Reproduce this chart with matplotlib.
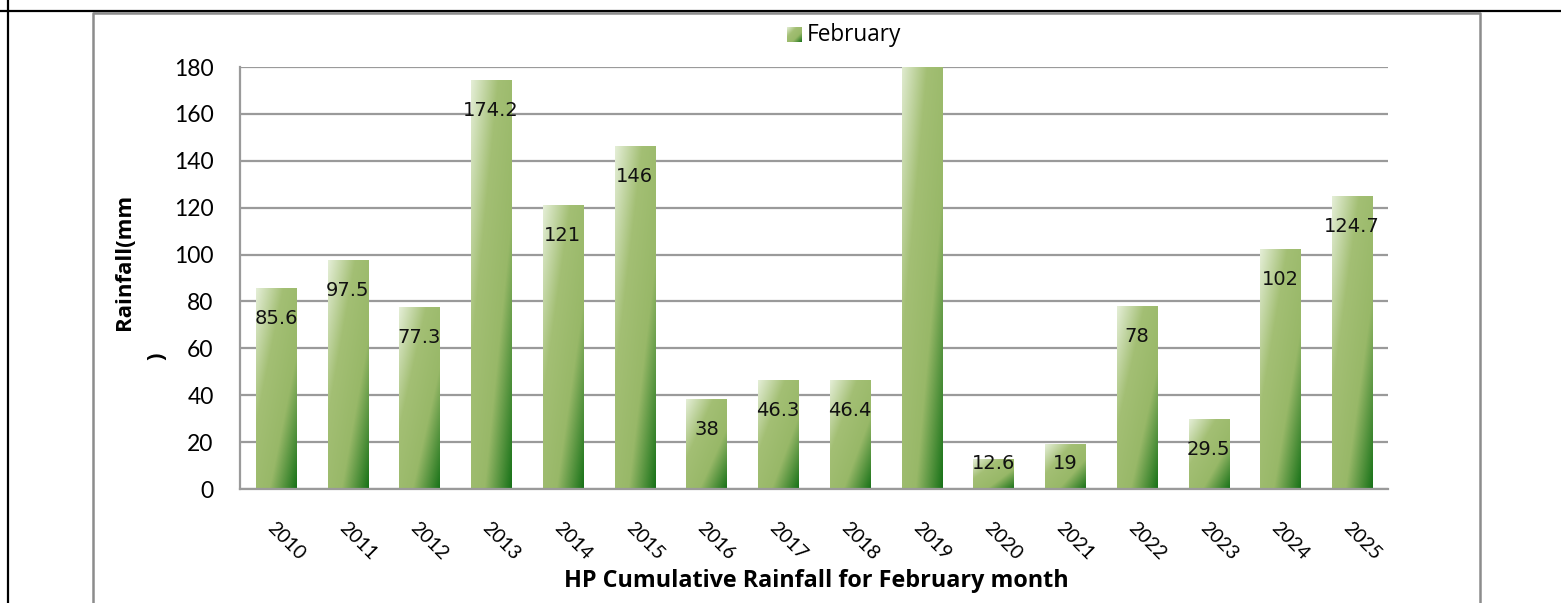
import numpy as np
import matplotlib
matplotlib.use("Agg")
import matplotlib.pyplot as plt
from matplotlib.colors import LinearSegmentedColormap
from matplotlib.lines import Line2D

# -----------------------------
# DATA
# -----------------------------
years = ["2010", "2011", "2012", "2013", "2014", "2015", "2016", "2017",
         "2018", "2019", "2020", "2021", "2022", "2023", "2024", "2025"]
rainfall = [85.6, 97.5, 77.3, 174.2, 121, 146, 38, 46.3,
            46.4, 190, 12.6, 19, 78, 29.5, 102, 124.7]   # 2019 runs off the top of the axis
labels = ["85.6", "97.5", "77.3", "174.2", "121", "146", "38", "46.3",
          "46.4", "", "12.6", "19", "78", "29.5", "102", "124.7"]
yticks = [0, 20, 40, 60, 80, 100, 120, 140, 160, 180]

# -----------------------------
# STYLE
# -----------------------------
W, H = 1561, 603
TICK_FONT = "Lato"
HEAD_FONT = "Open Sans"
grid_col = "#9a9a9a"
green = LinearSegmentedColormap.from_list(
    "grn", ["#e4eed6", "#a3bf74", "#98b868", "#187218"])

fig = plt.figure(figsize=(W / 100, H / 100), dpi=100)
ax = fig.add_axes([240 / W, 1 - 489 / H, (1388 - 240) / W, (489 - 67) / H])

x = np.arange(len(years))
bars = ax.bar(x, rainfall, width=0.56, color="none", edgecolor="none", zorder=2)

# diagonal gradient: light at top-left, dark at bottom-right
u = np.linspace(0, 1, 60)
v = np.linspace(0, 1, 200)
U, V = np.meshgrid(u, v)
grad = (U + (1 - V)) / 2
for b in bars:
    x0, w, h = b.get_x(), b.get_width(), b.get_height()
    ax.imshow(grad[::-1], extent=[x0, x0 + w, 0, h], aspect="auto",
              cmap=green, vmin=0, vmax=1, zorder=2, interpolation="bilinear")

# labels sit just inside the bar end, but never lower than near the base
ymax = 180
for xi, val, lab in zip(x, rainfall, labels):
    if lab and val <= ymax:
        ax.text(xi, max(val - 12.8, 10.7), lab, ha="center", va="center",
                fontsize=14, color="#111111", family="DejaVu Sans", zorder=3)

ax.set_xlim(-0.5, len(years) - 0.5)
ax.set_ylim(0, ymax)
ax.set_yticks(yticks)
ax.set_yticklabels([str(t) for t in yticks], family=TICK_FONT, fontsize=16.5)
ax.set_xticks(x)
ax.set_xticklabels(years, rotation=-45, ha="left", va="top",
                   rotation_mode="anchor", family=TICK_FONT, fontsize=14)
ax.tick_params(axis="both", length=0)
ax.tick_params(axis="y", pad=19)
ax.tick_params(axis="x", pad=22)

ax.yaxis.grid(True, color=grid_col, linewidth=1.6, zorder=0)
ax.set_axisbelow(True)
for side in ["top", "right"]:
    ax.spines[side].set_visible(False)
ax.spines["left"].set_color(grid_col)
ax.spines["bottom"].set_color(grid_col)
ax.spines["left"].set_linewidth(1.6)
ax.spines["bottom"].set_linewidth(1.6)

# axis titles
fig.text(816 / W, 1 - 581 / H, "HP Cumulative Rainfall for February month",
         family=HEAD_FONT, fontsize=16.8, fontweight="bold",
         ha="center", va="center")
fig.text(125 / W, 1 - 262 / H, "Rainfall(mm", family=HEAD_FONT, fontsize=16,
         fontweight="bold", rotation=90, ha="center", va="center")
fig.text(157 / W, 1 - 356 / H, ")", family=HEAD_FONT, fontsize=16,
         fontweight="bold", rotation=90, ha="center", va="center")

# legend (gradient square + text)
lax = fig.add_axes([787 / W, 1 - 42 / H, 15 / W, 15 / H])
lax.imshow(grad[::-1], aspect="auto", cmap=green, vmin=0, vmax=1,
           extent=[0, 1, 0, 1], interpolation="bilinear")
lax.set_axis_off()
fig.text(807 / W, 1 - 35 / H, "February", family=HEAD_FONT, fontsize=16.3,
         ha="left", va="center")

# chart area border (gray) and page/table lines (black)
fig.add_artist(Line2D([93 / W, 93 / W, 1480 / W, 1480 / W],
                      [0, 1 - 12.5 / H, 1 - 12.5 / H, 0],
                      transform=fig.transFigure, color="#8c8c8c", lw=1.8))
fig.add_artist(Line2D([0, 1], [1 - 10.5 / H, 1 - 10.5 / H],
                      transform=fig.transFigure, color="black", lw=1.6))
fig.add_artist(Line2D([8 / W, 8 / W], [0, 1],
                      transform=fig.transFigure, color="black", lw=1.6))

fig.savefig("out.png", dpi=100)
